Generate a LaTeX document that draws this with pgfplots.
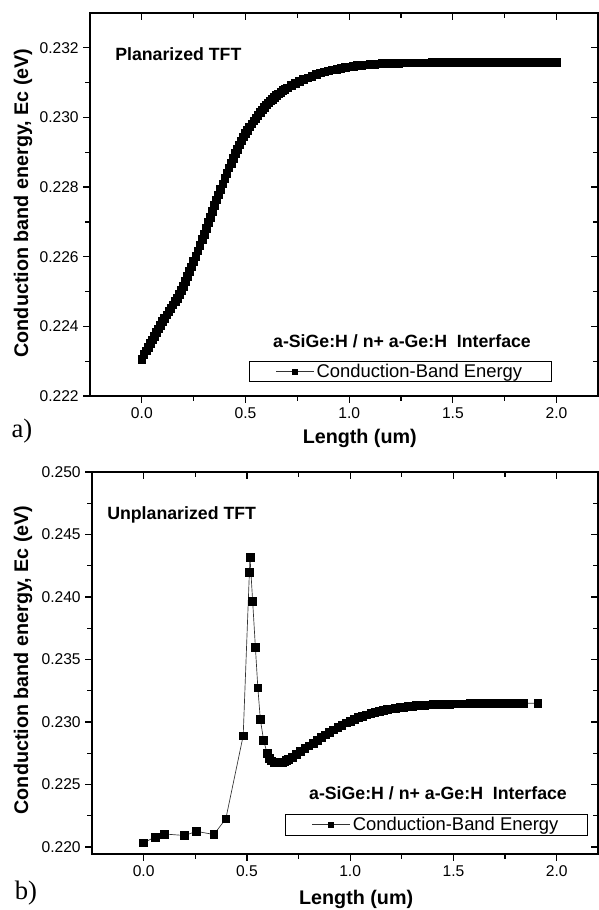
\documentclass[border=0pt]{standalone}
\usepackage{pgfplots}
\pgfplotsset{compat=1.18}
\usepackage{fontspec}
\setmainfont{Liberation Sans}
\newfontfamily\serifabc{Liberation Serif}

\tikzset{lbl/.style={font=\fontsize{14.8}{17}\selectfont\bfseries}}

% shared frame for both panels (Origin style: out ticks bottom/left, in ticks top/right)
\pgfplotsset{
  frame/.style={
    scale only axis, anchor=south west,
    axis line style={line width=0.9pt},
    tick style={black, line width=0.9pt},
    major tick length=5pt, minor tick length=3.5pt,
    xmin=-0.25, xmax=2.2,
    xtick={0,0.5,1,1.5,2},
    minor x tick num=1, minor y tick num=1,
    tick label style={font=\fontsize{11.7}{13}\selectfont},
    /pgf/number format/assume math mode=true,
    scaled x ticks=false, scaled y ticks=false,
    xticklabel style={/pgf/number format/fixed, /pgf/number format/fixed zerofill, /pgf/number format/precision=1},
    yticklabel style={/pgf/number format/fixed, /pgf/number format/fixed zerofill, /pgf/number format/precision=3},
  },
  outer/.style={frame, xtick pos=left, ytick pos=left, tick align=outside},
  inner/.style={frame, xtick pos=right, ytick pos=right, tick align=inside,
    xticklabels={}, yticklabels={}},
  ec/.style={black!80, line width=0.5pt, mark=square*, mark size=2.9pt,
    mark options={fill=black, draw=black, solid}},
  leg/.style={
    legend style={at={#1}, anchor=center, draw=black, line width=0.6pt, fill=white,
      font=\fontsize{13.8}{15}\selectfont, inner xsep=20pt, inner ysep=0pt},
    legend image code/.code={\draw[mark repeat=2, mark phase=2]
      plot coordinates {(0pt,0pt) (14pt,0pt) (28pt,0pt)};},
    legend image post style={mark size=1.9pt},
  },
}

\begin{document}
\begin{tikzpicture}
\useasboundingbox (0,0) rectangle (449.25pt,682.5pt);

% ---------- a) planarized ----------
\begin{axis}[outer, at={(67.5pt,385.5pt)}, width=381pt, height=287.25pt,
  ymin=0.222, ymax=0.233,
  ytick={0.222,0.224,0.226,0.228,0.230,0.232},
  xlabel={Length (um)}, ylabel={Conduction band energy, Ec (eV)},
  xlabel style={lbl, at={(axis description cs:0.531,-0.110)}, anchor=center},
  ylabel style={lbl, at={(axis description cs:-0.132,0.504)}, anchor=center},
  leg={(0.611,0.064)}]
\addplot[ec] coordinates {
 (0.00,0.22305) (0.01,0.22320) (0.02,0.22330) (0.03,0.22340) (0.04,0.22351)
 (0.05,0.22361) (0.06,0.22372) (0.07,0.22382) (0.08,0.22393) (0.09,0.22403)
 (0.10,0.22414) (0.11,0.22424) (0.12,0.22433) (0.13,0.22443) (0.14,0.22452)
 (0.15,0.22462) (0.16,0.22471) (0.17,0.22481) (0.18,0.22491) (0.19,0.22503)
 (0.20,0.22516) (0.21,0.22529) (0.22,0.22543) (0.23,0.22557) (0.24,0.22571)
 (0.25,0.22586) (0.26,0.22601) (0.27,0.22617) (0.28,0.22633) (0.29,0.22649)
 (0.30,0.22665) (0.31,0.22682) (0.32,0.22698) (0.33,0.22714) (0.34,0.22731)
 (0.35,0.22747) (0.36,0.22763) (0.37,0.22778) (0.38,0.22794) (0.39,0.22809)
 (0.40,0.22825) (0.41,0.22840) (0.42,0.22855) (0.43,0.22869) (0.44,0.22883)
 (0.45,0.22896) (0.46,0.22909) (0.47,0.22921) (0.48,0.22933) (0.49,0.22944)
 (0.50,0.22954) (0.51,0.22964) (0.52,0.22973) (0.53,0.22982) (0.54,0.22990)
 (0.55,0.22998) (0.56,0.23006) (0.57,0.23014) (0.58,0.23022) (0.59,0.23030)
 (0.60,0.23036) (0.61,0.23042) (0.62,0.23048) (0.63,0.23053) (0.64,0.23058)
 (0.65,0.23063) (0.66,0.23068) (0.67,0.23073) (0.68,0.23077) (0.69,0.23081)
 (0.70,0.23085) (0.72,0.23092) (0.74,0.23098) (0.76,0.23104) (0.78,0.23109)
 (0.80,0.23114) (0.82,0.23119) (0.84,0.23124) (0.86,0.23128) (0.88,0.23131)
 (0.90,0.23134) (0.92,0.23137) (0.94,0.23139) (0.96,0.23141) (0.98,0.23143)
 (1.00,0.23145) (1.02,0.23147) (1.04,0.23149) (1.06,0.23150) (1.08,0.23151)
 (1.10,0.23152) (1.12,0.23153) (1.14,0.23154) (1.16,0.23155) (1.18,0.23155)
 (1.20,0.23156) (1.22,0.23156) (1.24,0.23156) (1.26,0.23157) (1.28,0.23157)
 (1.30,0.23157) (1.32,0.23157) (1.34,0.23157) (1.36,0.23157) (1.38,0.23157)
 (1.40,0.23158) (1.42,0.23158) (1.44,0.23158) (1.46,0.23158) (1.48,0.23158)
 (1.50,0.23158) (1.52,0.23158) (1.54,0.23158) (1.56,0.23158) (1.58,0.23158)
 (1.60,0.23158) (1.62,0.23158) (1.64,0.23158) (1.66,0.23158) (1.68,0.23158)
 (1.70,0.23158) (1.72,0.23158) (1.74,0.23158) (1.76,0.23158) (1.78,0.23158)
 (1.80,0.23158) (1.82,0.23158) (1.84,0.23158) (1.86,0.23158) (1.88,0.23158)
 (1.90,0.23158) (1.92,0.23158) (1.94,0.23158) (1.96,0.23158) (1.98,0.23158)
 (2.00,0.23158)
};
\addlegendentry{Conduction-Band Energy}
\end{axis}
\begin{axis}[inner, at={(67.5pt,385.5pt)}, width=381pt, height=287.25pt,
  ymin=0.222, ymax=0.233,
  ytick={0.222,0.224,0.226,0.228,0.230,0.232}]
\end{axis}

% ---------- b) unplanarized ----------
\begin{axis}[outer, at={(69pt,42pt)}, width=379.5pt, height=286.5pt,
  ymin=0.21944, ymax=0.250,
  ytick={0.220,0.225,0.230,0.235,0.240,0.245,0.250},
  xlabel={Length (um)}, ylabel={Conduction band energy, Ec (eV)},
  xlabel style={lbl, at={(axis description cs:0.522,-0.118)}, anchor=center},
  ylabel style={lbl, at={(axis description cs:-0.136,0.508)}, anchor=center},
  leg={(0.681,0.077)}]
\addplot[ec] coordinates {
 (0.000,0.22034) (0.055,0.22080) (0.101,0.22104) (0.198,0.22092) (0.256,0.22125)
 (0.340,0.22100) (0.398,0.22226) (0.482,0.22890) (0.512,0.24195) (0.515,0.24317)
 (0.528,0.23963) (0.541,0.23600) (0.553,0.23274) (0.565,0.23022) (0.581,0.22852)
 (0.598,0.22750) (0.61,0.22708) (0.62,0.22690) (0.63,0.22680) (0.64,0.22675)
 (0.65,0.22673) (0.66,0.22673) (0.67,0.22677) (0.68,0.22682) (0.69,0.22691)
 (0.70,0.22700) (0.72,0.22718) (0.74,0.22740)
 (0.76,0.22765) (0.78,0.22788) (0.80,0.22810) (0.82,0.22832) (0.84,0.22855)
 (0.86,0.22876) (0.88,0.22897) (0.90,0.22918) (0.92,0.22938) (0.94,0.22958)
 (0.96,0.22976) (0.98,0.22993) (1.00,0.23008) (1.02,0.23022) (1.04,0.23035)
 (1.06,0.23047) (1.08,0.23058) (1.10,0.23068) (1.12,0.23077) (1.14,0.23085)
 (1.16,0.23093) (1.18,0.23100) (1.20,0.23106) (1.22,0.23111) (1.24,0.23116)
 (1.26,0.23120) (1.28,0.23124) (1.30,0.23128) (1.32,0.23131) (1.34,0.23134)
 (1.36,0.23136) (1.38,0.23138) (1.40,0.23140) (1.42,0.23141) (1.44,0.23142)
 (1.46,0.23143) (1.48,0.23144) (1.50,0.23145) (1.52,0.23145) (1.54,0.23146)
 (1.56,0.23146) (1.58,0.23147) (1.60,0.23147) (1.62,0.23148) (1.64,0.23148)
 (1.66,0.23148) (1.68,0.23149) (1.70,0.23149) (1.72,0.23149) (1.74,0.23149)
 (1.76,0.23150) (1.78,0.23150) (1.80,0.23150) (1.837,0.23150) (1.908,0.23150)
};
\addlegendentry{Conduction-Band Energy}
\end{axis}
\begin{axis}[inner, at={(69pt,42pt)}, width=379.5pt, height=286.5pt,
  ymin=0.21944, ymax=0.250,
  ytick={0.220,0.225,0.230,0.235,0.240,0.245,0.250}]
\end{axis}

% ---------- annotations ----------
\begin{scope}[every node/.style={font=\fontsize{13.3}{15}\selectfont\bfseries, inner sep=0pt}]
\node[anchor=west] at (86.25pt,642pt) {Planarized TFT};
\node at (301.5pt,426.75pt) {a-SiGe:H / n+ a-Ge:H\ \ Interface};
\node[anchor=west] at (80.25pt,296.25pt) {Unplanarized TFT};
\node at (328.5pt,87.75pt) {a-SiGe:H / n+ a-Ge:H\ \ Interface};
\end{scope}
\node[font=\serifabc\fontsize{20}{22}\selectfont, inner sep=0pt] at (16.5pt,359.25pt) {a)};
\node[font=\serifabc\fontsize{20}{22}\selectfont, inner sep=0pt] at (19.5pt,12.75pt) {b)};
\end{tikzpicture}
\end{document}
